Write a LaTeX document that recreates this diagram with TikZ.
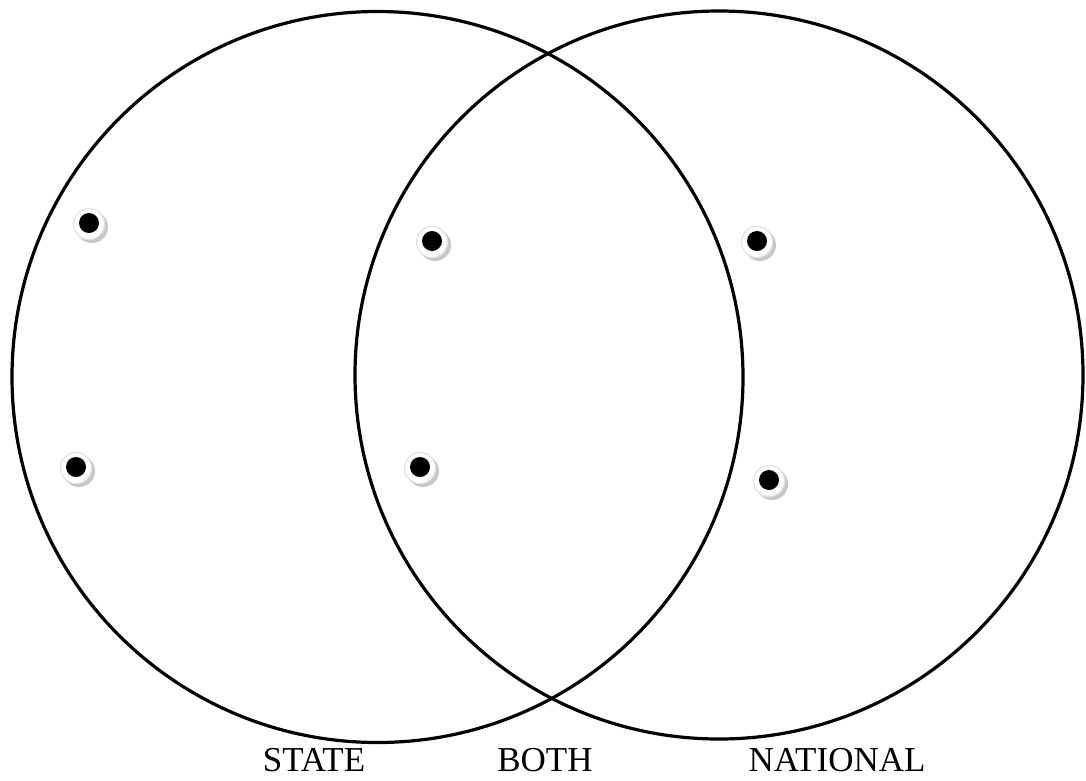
\documentclass[tikz,border=0pt]{standalone}
\usepackage{fontspec}
\setmainfont{Liberation Serif}
\usetikzlibrary{calc}
\tikzset{
  ring/.style={circle,draw=black,line width=3.2pt,inner sep=0pt},
  dot/.style={circle,fill=black,minimum size=20pt,inner sep=0pt},
  lab/.style={font=\fontsize{35}{35}\selectfont,anchor=base,inner sep=0pt}
}
\newcommand{\mybullet}[2]{%
  \fill[black!22] ($(#1)+(3,4)$) circle (16);
  \fill[white] ($(#1)+(0,1)$) circle (16);
  \draw[black!12,line width=1pt] ($(#1)+(0,1)$) circle (15.5);
  \node[dot] (#2) at (#1) {};
}
\begin{document}
\begin{tikzpicture}[x=1pt,y=-1pt]
\useasboundingbox (0,0) rectangle (1086,780);
\fill[white] (0,0) rectangle (1086,780);
\node[ring,minimum size=731pt] (L) at (377.5,377) {};
\node[ring,minimum size=728pt] (R) at (719,375) {};
\mybullet{89,223}{b1}
\mybullet{432,241}{b2}
\mybullet{757,241}{b3}
\mybullet{76,467}{b4}
\mybullet{420,467}{b5}
\mybullet{769,480}{b6}
\node[lab] (s) at (314,771) {STATE};
\node[lab] (b) at (545,771) {BOTH};
\node[lab] (n) at (837,771) {NATIONAL};
\end{tikzpicture}
\end{document}
